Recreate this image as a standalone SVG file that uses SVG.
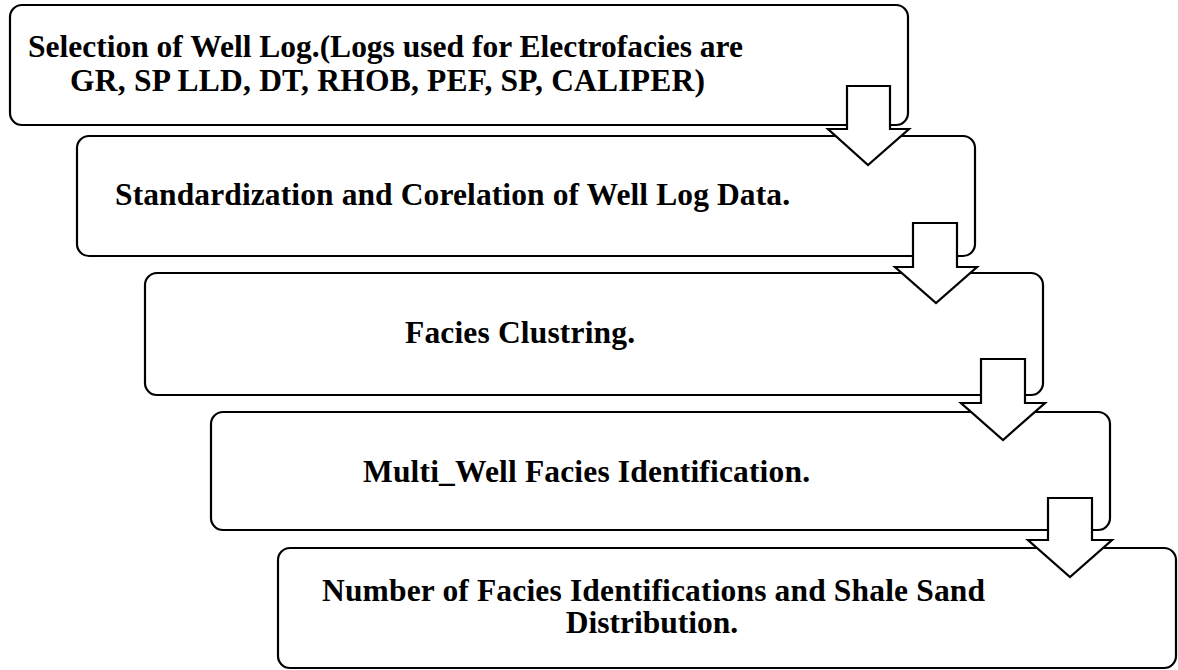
<svg xmlns="http://www.w3.org/2000/svg" width="1178" height="670" viewBox="0 0 1178 670">
  <style>
    .box { fill: #ffffff; stroke: #000000; stroke-width: 2.2; }
    .arrow { fill: #ffffff; stroke: #000000; stroke-width: 2.2; stroke-linejoin: miter; }
  </style>
  <rect width="1178" height="670" fill="#ffffff"/>

  <!-- process steps -->
  <g font-family="Liberation Serif, Times New Roman, serif" font-weight="700" font-size="31.5" fill="#000000">
    <g id="step-1">
      <rect class="box" x="10" y="5" width="898" height="120" rx="12" ry="12"/>
      <text x="28" y="57" textLength="715">Selection of Well Log.(Logs used for Electrofacies are</text>
      <text x="70" y="91" textLength="635">GR, SP LLD, DT, RHOB, PEF, SP, CALIPER)</text>
    </g>

    <g id="step-2">
      <rect class="box" x="77" y="136" width="898" height="120" rx="12" ry="12"/>
      <text x="115" y="205" textLength="675">Standardization and Corelation of Well Log Data.</text>
    </g>

    <g id="step-3">
      <rect class="box" x="145" y="273" width="898" height="122" rx="12" ry="12"/>
      <text x="405" y="343" textLength="230">Facies Clustring.</text>
    </g>

    <g id="step-4">
      <rect class="box" x="211" y="412" width="899" height="118" rx="12" ry="12"/>
      <text x="363" y="482" textLength="447">Multi_Well Facies Identification.</text>
    </g>

    <g id="step-5">
      <rect class="box" x="278" y="548" width="898" height="120" rx="12" ry="12"/>
      <text x="322" y="601" textLength="663">Number of Facies Identifications and Shale Sand</text>
      <text x="652" y="633" text-anchor="middle">Distribution.</text>
    </g>
  </g>

  <!-- block arrows between steps -->
  <g id="connectors">
    <polygon class="arrow" points="847,86 890,86 890,129 909,129 868,165 828,129 847,129"/>
    <polygon class="arrow" points="913,223 957,223 957,267 977,267 936,303 895,267 913,267"/>
    <polygon class="arrow" points="981,359 1025,359 1025,403 1045,403 1003,440 961,403 981,403"/>
    <polygon class="arrow" points="1048,498 1092,498 1092,540 1112,540 1070,577 1028,540 1048,540"/>
  </g>
</svg>
